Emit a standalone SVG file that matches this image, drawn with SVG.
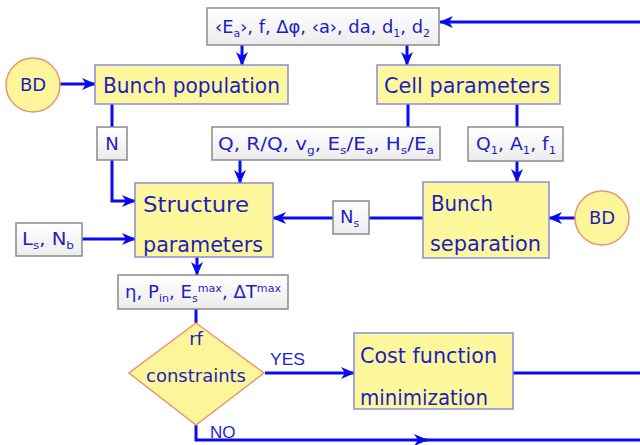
<svg xmlns="http://www.w3.org/2000/svg" width="640" height="445" viewBox="0 0 640 445">
<defs>
<marker id="ah" viewBox="0 0 14 12" refX="13" refY="6" markerWidth="14" markerHeight="12" markerUnits="userSpaceOnUse" orient="auto">
<path d="M0,0 L14,6 L0,12 L4,6 z" fill="#0a0af0"/>
</marker>
<linearGradient id="wg" x1="0" y1="0" x2="0" y2="1">
<stop offset="0" stop-color="#ffffff"/>
<stop offset="1" stop-color="#ececec"/>
</linearGradient>
</defs>
<style>
.lbl{fill:url(#wg);stroke:#8a8a8a;stroke-width:1.5}
.yb{fill:#fdf89c;stroke:#8a8ae0;stroke-width:1.5}
.yo{fill:#fdf59a;stroke:#eb9570;stroke-width:1.5}
.t{font-family:"DejaVu Sans","Liberation Sans",sans-serif;fill:#1e1ec0}
.big{font-size:22px}
.mid{font-size:18px}
.sub{font-size:11px}
.c{stroke:#0a0af0;stroke-width:3;fill:none}
.ca{stroke:#0a0af0;stroke-width:3;fill:none;marker-end:url(#ah)}
.yn{font-family:"Liberation Sans",Arial,sans-serif;font-size:17px;fill:#1e1ee0}
</style>
<rect width="640" height="445" fill="#ffffff"/>

<g id="connectors">
<line class="ca" x1="640" y1="22" x2="440" y2="22"/>
<line class="ca" x1="242" y1="45" x2="242" y2="65"/>
<line class="ca" x1="407" y1="45" x2="407" y2="65"/>
<line class="ca" x1="60" y1="84" x2="95" y2="84"/>
<line class="c" x1="112" y1="104" x2="112" y2="127"/>
<polyline class="ca" points="112,160 112,201 135,201"/>
<line class="c" x1="408" y1="104" x2="408" y2="127"/>
<line class="c" x1="517" y1="104" x2="517" y2="127"/>
<line class="ca" x1="240" y1="160" x2="240" y2="183"/>
<line class="ca" x1="517" y1="161" x2="517" y2="182"/>
<line class="ca" x1="575" y1="218" x2="549" y2="218"/>
<line class="c" x1="423" y1="218" x2="369" y2="218"/>
<line class="ca" x1="333" y1="218" x2="273" y2="218"/>
<line class="ca" x1="82" y1="239" x2="135" y2="239"/>
<line class="ca" x1="197" y1="257" x2="197" y2="275"/>
<line class="c" x1="196" y1="309" x2="196" y2="323"/>
<line class="ca" x1="265" y1="373" x2="354" y2="373"/>
<line class="c" x1="513" y1="373" x2="640" y2="373"/>
<polyline class="ca" points="196,425 196,440 427,440"/>
<line class="c" x1="424" y1="440" x2="640" y2="440"/>
<text class="yn" x="270" y="365" textLength="35" lengthAdjust="spacingAndGlyphs">YES</text>
<text class="yn" x="210" y="438">NO</text>
</g>

<g id="inputs-top">
<rect class="lbl" x="207" y="8" width="232" height="37"/>
<text class="t mid" x="215" y="33" textLength="215" lengthAdjust="spacingAndGlyphs">‹E<tspan class="sub" dy="4">a</tspan><tspan dy="-4">›, f, Δφ, ‹a›, da, d</tspan><tspan class="sub" dy="4">1</tspan><tspan dy="-4">, d</tspan><tspan class="sub" dy="4">2</tspan></text>
</g>

<g id="bd-left">
<circle class="yo" cx="33" cy="85" r="27"/>
<text class="t mid" x="33" y="91" text-anchor="middle">BD</text>
</g>

<g id="bunch-population">
<rect class="yb" x="95" y="65" width="193" height="39"/>
<text class="t big" x="103" y="93" textLength="177" lengthAdjust="spacingAndGlyphs">Bunch population</text>
</g>

<g id="cell-parameters">
<rect class="yb" x="377" y="65" width="183" height="39"/>
<text class="t big" x="384" y="93" textLength="166" lengthAdjust="spacingAndGlyphs">Cell parameters</text>
</g>

<g id="n-label">
<rect class="lbl" x="97" y="127" width="30" height="33"/>
<text class="t mid" x="112" y="150" text-anchor="middle">N</text>
</g>

<g id="rf-params">
<rect class="lbl" x="212" y="127" width="228" height="33"/>
<text class="t mid" x="218" y="150" textLength="216" lengthAdjust="spacingAndGlyphs">Q, R/Q, v<tspan class="sub" dy="4">g</tspan><tspan dy="-4">, E</tspan><tspan class="sub" dy="4">s</tspan><tspan dy="-4">/E</tspan><tspan class="sub" dy="4">a</tspan><tspan dy="-4">, H</tspan><tspan class="sub" dy="4">s</tspan><tspan dy="-4">/E</tspan><tspan class="sub" dy="4">a</tspan></text>
</g>

<g id="q1-params">
<rect class="lbl" x="468" y="127" width="95" height="34"/>
<text class="t mid" x="476" y="150" textLength="80" lengthAdjust="spacingAndGlyphs">Q<tspan class="sub" dy="4">1</tspan><tspan dy="-4">, A</tspan><tspan class="sub" dy="4">1</tspan><tspan dy="-4">, f</tspan><tspan class="sub" dy="4">1</tspan></text>
</g>

<g id="structure-parameters">
<rect class="yb" x="135" y="183" width="138" height="74"/>
<text class="t big" x="143" y="212" textLength="106" lengthAdjust="spacingAndGlyphs">Structure</text>
<text class="t big" x="143" y="252" textLength="120" lengthAdjust="spacingAndGlyphs">parameters</text>
</g>

<g id="ls-nb">
<rect class="lbl" x="16" y="223" width="66" height="33"/>
<text class="t mid" x="22" y="245" textLength="52" lengthAdjust="spacingAndGlyphs">L<tspan class="sub" dy="4">s</tspan><tspan dy="-4">, N</tspan><tspan class="sub" dy="4">b</tspan></text>
</g>

<g id="ns-label">
<rect class="lbl" x="333" y="201" width="36" height="33"/>
<text class="t mid" x="340" y="223">N<tspan class="sub" dy="4">s</tspan></text>
</g>

<g id="bunch-separation">
<rect class="yb" x="423" y="182" width="126" height="76"/>
<text class="t big" x="431" y="211" textLength="62" lengthAdjust="spacingAndGlyphs">Bunch</text>
<text class="t big" x="430" y="251" textLength="111" lengthAdjust="spacingAndGlyphs">separation</text>
</g>

<g id="bd-right">
<circle class="yo" cx="602" cy="218" r="27"/>
<text class="t mid" x="602" y="224" text-anchor="middle">BD</text>
</g>

<g id="outputs">
<rect class="lbl" x="118" y="275" width="170" height="34"/>
<text class="t mid" x="125" y="298" textLength="156" lengthAdjust="spacingAndGlyphs">η, P<tspan class="sub" dy="4">in</tspan><tspan dy="-4">, E</tspan><tspan class="sub" dy="4">s</tspan><tspan class="sub" dy="-10">max</tspan><tspan dy="6">, ΔT</tspan><tspan class="sub" dy="-6">max</tspan></text>
</g>

<g id="rf-constraints">
<polygon class="yo" points="196,323 264,373 196,425 129,373"/>
<text class="t mid" x="196" y="345" text-anchor="middle">rf</text>
<text class="t mid" x="196" y="382" text-anchor="middle" textLength="100" lengthAdjust="spacingAndGlyphs">constraints</text>
</g>

<g id="cost-function">
<rect class="yb" x="354" y="333" width="159" height="76"/>
<text class="t big" x="360" y="363" textLength="137" lengthAdjust="spacingAndGlyphs">Cost function</text>
<text class="t big" x="360" y="405" textLength="128" lengthAdjust="spacingAndGlyphs">minimization</text>
</g>
</svg>
